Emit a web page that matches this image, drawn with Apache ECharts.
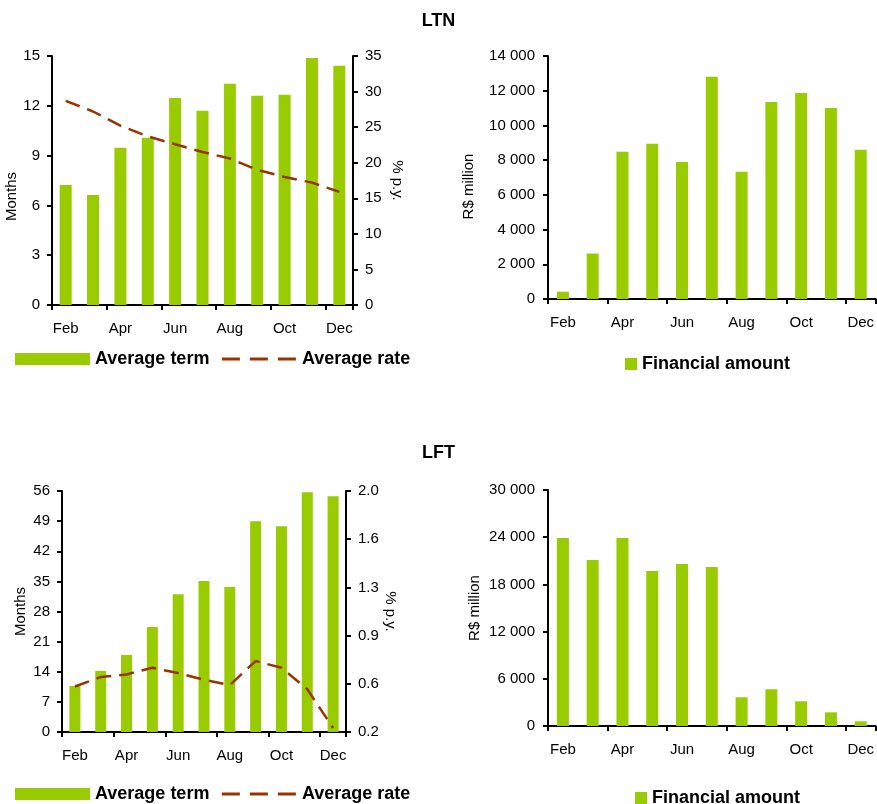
<!DOCTYPE html>
<html>
<head>
<meta charset="utf-8">
<script src="https://cdn.jsdelivr.net/npm/echarts@6/dist/echarts.min.js"></script>
<style>
  html, body { margin: 0; padding: 0; background: #fff; }
  #chart { width: 877px; height: 804px; }
</style>
</head>
<body>
<div id="chart"></div>
<script>
// Monthly auction results, February to December
const months = ['Feb', 'Mar', 'Apr', 'May', 'Jun', 'Jul', 'Aug', 'Sep', 'Oct', 'Nov', 'Dec'];

// LTN
const ltnTerm = [7.23, 6.63, 9.48, 10.08, 12.47, 11.7, 13.33, 12.61, 12.67, 14.88, 14.42];
const ltnRate = [28.7, 27.2, 25.2, 23.7, 22.6, 21.5, 20.6, 19.0, 18.0, 17.2, 15.9];
const ltnAmount = [420, 2620, 8480, 8950, 7900, 12800, 7330, 11350, 11870, 11000, 8600];

// LFT
const lftTerm = [10.7, 14.2, 17.9, 24.4, 32.0, 35.1, 33.7, 49.0, 47.8, 55.7, 54.8];
const lftRate = [0.54, 0.61, 0.63, 0.68, 0.64, 0.59, 0.55, 0.73, 0.68, 0.52, 0.23];
const lftAmount = [23900, 21100, 23900, 19700, 20600, 20200, 3650, 4670, 3140, 1740, 600];

const GREEN = '#99CC00';
const RUST = '#993300';
const FONT = "'Liberation Sans', Arial, sans-serif";

const thousands = v => String(v).replace(/\B(?=(\d{3})+(?!\d))/g, ' ');

const axisLine = { show: true, onZero: false, lineStyle: { color: '#000', width: 2 } };
const yTick = { show: true, length: 5, lineStyle: { color: '#000', width: 2 } };

function xAxis(gridIndex) {
  return {
    type: 'category', gridIndex, data: months,
    axisLine,
    axisTick: { show: true, interval: 1, length: 5, lineStyle: { color: '#000', width: 2 } },
    axisLabel: { interval: 1, fontSize: 15, color: '#000', margin: 16, fontFamily: FONT },
    splitLine: { show: false }
  };
}

function yAxis(gridIndex, opts) {
  return Object.assign({
    type: 'value', gridIndex,
    axisLine, axisTick: yTick,
    splitLine: { show: false },
    nameLocation: 'middle',
    nameTextStyle: { fontSize: 15, color: '#000', fontFamily: FONT },
  }, opts, {
    axisLabel: Object.assign({ fontSize: 15, color: '#000', margin: 12, fontFamily: FONT }, opts.axisLabel || {})
  });
}

const legendText = { fontSize: 18, fontWeight: 'bold', color: '#000', fontFamily: FONT };
// the rate entry shows only its dashed stroke, no marker
const rateEntry = {
  name: 'Average rate',
  itemStyle: { color: 'rgba(0,0,0,0)', borderWidth: 0, opacity: 0 },
  lineStyle: { color: RUST, width: 3, type: [18, 10] }
};

const option = {
  animation: false,
  backgroundColor: '#fff',
  title: [
    { text: 'LTN', left: 'center', top: 7, textStyle: { fontSize: 18, fontWeight: 'bold', color: '#000', fontFamily: FONT } },
    { text: 'LFT', left: 'center', top: 439, textStyle: { fontSize: 18, fontWeight: 'bold', color: '#000', fontFamily: FONT } }
  ],
  grid: [
    { left: 52, top: 56, width: 301, height: 249 },
    { left: 548, top: 56, width: 329, height: 243 },
    { left: 62, top: 491, width: 284, height: 241 },
    { left: 548, top: 490, width: 329, height: 236 }
  ],
  xAxis: [xAxis(0), xAxis(1), xAxis(2), xAxis(3)],
  yAxis: [
    yAxis(0, { min: 0, max: 15, interval: 3, name: 'Months', nameGap: 30, nameRotate: 90,
      nameTextStyle: { fontSize: 15, color: '#000', fontFamily: FONT, padding: [0, 32, 0, 0] } }),
    yAxis(0, { position: 'right', min: 0, max: 35, interval: 5, name: '% p.y.', nameGap: 37, nameRotate: -90 }),
    yAxis(1, { min: 0, max: 14000, interval: 2000, name: 'R$ million', nameGap: 72, nameRotate: 90,
      axisLabel: { formatter: thousands, margin: 13 },
      nameTextStyle: { fontSize: 15, color: '#000', fontFamily: FONT, padding: [0, 18, 0, 0] } }),
    yAxis(2, { min: 0, max: 56, interval: 7, name: 'Months', nameGap: 34, nameRotate: 90 }),
    yAxis(2, { position: 'right', min: 0.2, max: 2.0, interval: 0.36, name: '% p.y.', nameGap: 36, nameRotate: -90,
      axisLabel: { formatter: v => v.toFixed(1) } }),
    yAxis(3, { min: 0, max: 30000, interval: 6000, name: 'R$ million', nameGap: 66, nameRotate: 90,
      axisLabel: { formatter: thousands, margin: 13 } })
  ],
  legend: [
    { left: 15, top: 350, padding: 0, itemWidth: 75, itemHeight: 12, itemGap: 11, textStyle: legendText,
      data: [{ name: 'Average term', icon: 'rect' }, rateEntry] },
    { left: 625, top: 355, padding: 0, itemWidth: 12, itemHeight: 12, textStyle: legendText,
      data: [{ name: 'Financial amount', icon: 'rect' }] },
    { left: 15, top: 785, padding: 0, itemWidth: 75, itemHeight: 12, itemGap: 11, textStyle: legendText,
      data: [{ name: 'Average term', icon: 'rect' }, rateEntry] },
    { left: 635, top: 789, padding: 0, itemWidth: 12, itemHeight: 12, textStyle: legendText,
      data: [{ name: 'Financial amount', icon: 'rect' }] }
  ],
  series: [
    { name: 'Average term', type: 'bar', xAxisIndex: 0, yAxisIndex: 0, data: ltnTerm, barWidth: 12,
      itemStyle: { color: GREEN } },
    { name: 'Average rate', type: 'line', xAxisIndex: 0, yAxisIndex: 1, data: ltnRate, symbol: 'none', z: 5,
      lineStyle: { color: RUST, width: 2.5, type: [15, 8] }, itemStyle: { color: RUST } },
    { name: 'Financial amount', type: 'bar', xAxisIndex: 1, yAxisIndex: 2, data: ltnAmount, barWidth: 12,
      itemStyle: { color: GREEN } },
    { name: 'Average term', type: 'bar', xAxisIndex: 2, yAxisIndex: 3, data: lftTerm, barWidth: 11,
      itemStyle: { color: GREEN } },
    { name: 'Average rate', type: 'line', xAxisIndex: 2, yAxisIndex: 4, data: lftRate, symbol: 'none', z: 5,
      lineStyle: { color: RUST, width: 2.5, type: [15, 8] }, itemStyle: { color: RUST } },
    { name: 'Financial amount', type: 'bar', xAxisIndex: 3, yAxisIndex: 5, data: lftAmount, barWidth: 12,
      itemStyle: { color: GREEN } }
  ]
};

const chart = echarts.init(document.getElementById('chart'), null, { renderer: 'canvas' });
chart.setOption(option);
</script>
</body>
</html>
